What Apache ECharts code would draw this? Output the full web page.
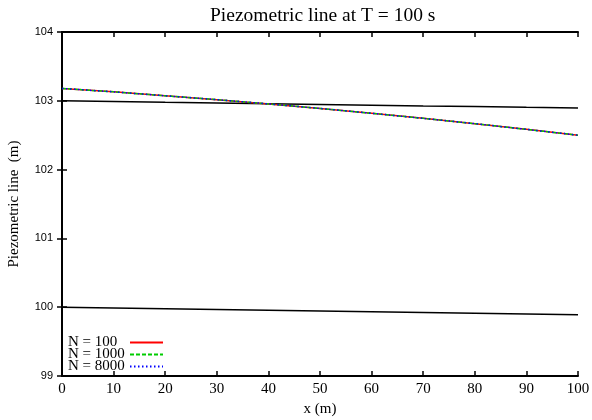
<!DOCTYPE html>
<html>
<head>
<meta charset="utf-8">
<script src="https://cdn.jsdelivr.net/npm/echarts@6/dist/echarts.min.js"></script>
<style>
  html, body { margin: 0; padding: 0; background: #fff; }
  #chart { width: 592px; height: 420px; }
</style>
</head>
<body>
<div id="chart"></div>
<script>
// x positions (m)
var xs = [0, 10, 20, 30, 40, 50, 60, 70, 80, 90, 100];
// piezometric line for the three grids (they overlap)
var n100 = [103.18, 103.13, 103.073, 103.017, 102.955, 102.889, 102.818, 102.745, 102.668, 102.585, 102.50];
var n1000 = [103.18, 103.13, 103.073, 103.017, 102.955, 102.889, 102.818, 102.745, 102.668, 102.585, 102.50];
var n8000 = [103.18, 103.13, 103.073, 103.017, 102.955, 102.889, 102.818, 102.745, 102.668, 102.585, 102.50];
// black reference lines
var upperLine = [103.0, 102.99, 102.979, 102.969, 102.958, 102.947, 102.937, 102.926, 102.916, 102.905, 102.895];
var lowerLine = [100.0, 99.989, 99.978, 99.967, 99.956, 99.945, 99.934, 99.923, 99.912, 99.901, 99.89];
var seriesNames = ['N = 100', 'N = 1000', 'N = 8000'];

function pairs(ys) {
  return xs.map(function (x, i) { return [x, ys[i]]; });
}

var serif = 'Liberation Serif';
var sans = 'Liberation Sans';

var chart = echarts.init(document.getElementById('chart'));

var axisLine = { show: true, lineStyle: { color: '#000', width: 2 } };
var tick = { show: true, inside: true, length: 5, lineStyle: { color: '#000', width: 1.5 } };

var option = {
  animation: false,
  title: {
    text: 'Piezometric line at T = 100 s',
    left: 205,
    top: 1,
    textStyle: { fontFamily: serif, fontSize: 19.5, fontWeight: 'normal', color: '#000' }
  },
  legend: {
    orient: 'vertical',
    left: 63,
    top: 330,
    itemWidth: 33,
    itemHeight: 11,
    itemGap: -3,
    data: seriesNames,
    align: 'right',
    itemStyle: { opacity: 0 },
    // fixed-width text so the samples line up
    formatter: function (name) { return '{t|' + name + '}'; },
    textStyle: {
      fontFamily: serif, fontSize: 15, color: '#000', lineHeight: 11,
      rich: { t: { fontFamily: serif, fontSize: 15, color: '#000', lineHeight: 11, width: 57, align: 'left' } }
    }
  },
  grid: { left: 62, right: 14, top: 32, bottom: 44, outerBoundsMode: 'none' },
  xAxis: [{
    type: 'value',
    min: 0, max: 100, interval: 10,
    name: 'x (m)',
    nameLocation: 'middle',
    nameGap: 26,
    nameTextStyle: { fontFamily: serif, fontSize: 15, color: '#000' },
    axisLine: axisLine,
    axisTick: tick,
    axisLabel: { fontFamily: serif, fontSize: 15, color: '#000', margin: 6 },
    splitLine: { show: false }
  }, {
    type: 'value',
    position: 'top',
    min: 0, max: 100, interval: 10,
    axisLine: axisLine,
    axisTick: tick,
    axisLabel: { show: false },
    splitLine: { show: false }
  }],
  yAxis: [{
    type: 'value',
    min: 99, max: 104, interval: 1,
    name: 'Piezometric line  (m)',
    nameLocation: 'middle',
    nameGap: 40,
    nameTextStyle: { fontFamily: serif, fontSize: 15, color: '#000' },
    axisLine: axisLine,
    axisTick: tick,
    axisLabel: { fontFamily: sans, fontSize: 11, color: '#000', margin: 9 },
    splitLine: { show: false }
  }, {
    type: 'value',
    position: 'right',
    min: 99, max: 104, interval: 1,
    axisLine: axisLine,
    axisTick: tick,
    axisLabel: { show: false },
    splitLine: { show: false }
  }],
  series: [
    {
      name: 'upper', type: 'line', symbol: 'none', data: pairs(upperLine),
      lineStyle: { color: '#000', width: 1.5 }, itemStyle: { color: '#000' }
    },
    {
      name: 'lower', type: 'line', symbol: 'none', data: pairs(lowerLine),
      lineStyle: { color: '#000', width: 1.5 }, itemStyle: { color: '#000' }
    },
    {
      name: seriesNames[0], type: 'line', symbol: 'none', data: pairs(n100),
      lineStyle: { color: '#ff0000', width: 1.5 }, itemStyle: { color: '#ff0000' }
    },
    {
      name: seriesNames[1], type: 'line', symbol: 'none', data: pairs(n1000),
      lineStyle: { color: '#00cc00', width: 1.5, type: [4, 2] }, itemStyle: { color: '#00cc00' }
    },
    {
      name: seriesNames[2], type: 'line', symbol: 'none', data: pairs(n8000),
      lineStyle: { color: '#0000ff', width: 1.5, type: [1.5, 2.5] }, itemStyle: { color: '#0000ff' }
    }
  ]
};

chart.setOption(option);
</script>
</body>
</html>
